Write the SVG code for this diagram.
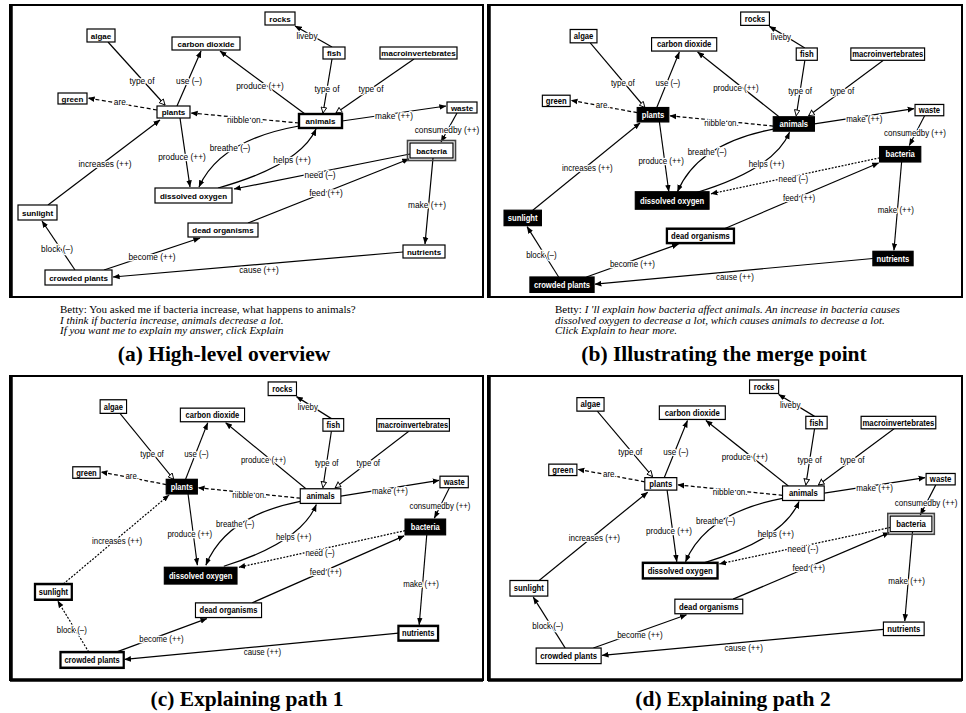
<svg xmlns="http://www.w3.org/2000/svg" width="966" height="713" viewBox="0 0 966 713">
<defs>
<style>
.n rect{fill:#fff;stroke:#000;stroke-width:1.2}
.n text{font-family:"Liberation Sans",Arial,sans-serif;font-weight:bold;font-size:8px;text-anchor:middle;fill:#000}
.n.h rect{fill:#000}
.n.h text{fill:#fff}
.n.t rect{stroke-width:2.4}
.n rect.o{fill:none;stroke:#444;stroke-width:1.6}
.e path{fill:none;stroke:#000;stroke-width:1.2}
.e path.d{stroke-dasharray:4 2.5}
.e path.s{stroke-dasharray:2 1.5}
.e path.a{marker-end:url(#ar)}
.e path.tr{marker-end:url(#tri)}
.lb{font-family:"Liberation Sans",Arial,sans-serif;font-size:8.3px;text-anchor:middle;fill:#000;stroke:#fff;stroke-width:2.5;paint-order:stroke;stroke-linejoin:round}
.frame{fill:none;stroke:#000;stroke-width:2}
.fl{stroke:#000;stroke-width:3.5}
.betty{font-family:"Liberation Serif","Times New Roman",serif;font-size:11px;fill:#000}
.it{font-style:italic}
.cap{font-family:"Liberation Serif","Times New Roman",serif;font-weight:bold;font-size:21.5px;text-anchor:middle;fill:#000}
</style>
<marker id="ar" viewBox="0 0 10 10" refX="9.5" refY="5" markerWidth="7" markerHeight="7" orient="auto" markerUnits="userSpaceOnUse"><path d="M0,1 L10,5 L0,9 z" fill="#000"/></marker>
<marker id="tri" viewBox="0 0 10 10" refX="9" refY="5" markerWidth="7" markerHeight="7" orient="auto" markerUnits="userSpaceOnUse"><path d="M1,1 L9,5 L1,9 z" fill="#fff" stroke="#000" stroke-width="1.3"/></marker>
</defs>
<rect width="966" height="713" fill="#fff"/>

<!-- frames -->
<rect class="frame" x="10" y="5" width="473" height="292"/>
<line class="fl" x1="11" y1="5" x2="11" y2="297"/>
<rect class="frame" x="488" y="5" width="474" height="292"/>
<line class="fl" x1="489" y1="5" x2="489" y2="297"/>
<rect class="frame" x="10" y="376" width="473" height="304"/>
<line class="fl" x1="11" y1="376" x2="11" y2="680"/>
<line class="fl" x1="10" y1="680" x2="483" y2="680"/>
<rect class="frame" x="488" y="376" width="474" height="304"/>
<line class="fl" x1="489" y1="376" x2="489" y2="680"/>
<line class="fl" x1="488" y1="680" x2="962" y2="680"/>

<!-- ================= PANEL A ================= -->
<g id="panel-a">
<g id="a-edges" class="e">
<path class="a" d="M332,47 L295,26"/><text class="lb" x="307" y="39">liveby</text>
<path class="tr" d="M108,42 L165,105"/><text class="lb" x="142" y="84">type of</text>
<path class="a" d="M177,106 L201,51"/><text class="lb" x="189" y="84">use (–)</text>
<path class="a" d="M305,114 L220,51"/><text class="lb" x="260" y="89">produce (++)</text>
<path class="tr" d="M332,59 L323,113"/><text class="lb" x="327" y="92">type of</text>
<path class="tr" d="M414,59 L336,113"/><text class="lb" x="371" y="92">type of</text>
<path class="a d" d="M157,110 L88,98"/><text class="lb" x="121" y="105">are.</text>
<path class="a d" d="M299,123 L191,113"/><text class="lb" x="245" y="123">nibble on.</text>
<path class="a" d="M342,121 L446,106"/><text class="lb" x="394" y="119">make (++)</text>
<path class="a" d="M457,113 L441,142"/><text class="lb" x="447" y="133">consumedby (++)</text>
<path class="a" d="M180,118 L190,187"/><text class="lb" x="182" y="160">produce (++)</text>
<path class="a" d="M299,126 Q220,140 199,187"/><text class="lb" x="230" y="151">breathe (–)</text>
<path class="a" d="M218,188 Q300,165 316,129"/><text class="lb" x="292" y="163">helps (++)</text>
<path class="a" d="M410,154 L234,189"/><text class="lb" x="320" y="178">need (–)</text>
<path class="a" d="M248,223 L409,159"/><text class="lb" x="326" y="196">feed (++)</text>
<path class="a" d="M433,158 L425,244"/><text class="lb" x="427" y="208">make (++)</text>
<path class="a" d="M403,252 L113,277"/><text class="lb" x="259" y="273">cause (++)</text>
<path class="a" d="M104,270 L200,238"/><text class="lb" x="152" y="260">become (++)</text>
<path class="a" d="M75,270 L42,221"/><text class="lb" x="57" y="252">block (–)</text>
<path class="a" d="M48,205 L160,120"/><text class="lb" x="105" y="167">increases (++)</text>
</g>
<g id="a-rocks" class="n"><rect x="265" y="12" width="30" height="13"/><text x="280" y="21.5">rocks</text></g>
<g id="a-algae" class="n"><rect x="87" y="29" width="28" height="13"/><text x="101" y="38.5">algae</text></g>
<g id="a-co2" class="n"><rect x="172" y="37" width="68" height="13"/><text x="206" y="46.5">carbon dioxide</text></g>
<g id="a-fish" class="n"><rect x="323" y="47" width="22" height="12"/><text x="334" y="56">fish</text></g>
<g id="a-macro" class="n"><rect x="380" y="47" width="77" height="12"/><text x="418.5" y="56">macroinvertebrates</text></g>
<g id="a-green" class="n"><rect x="58" y="93" width="29" height="11"/><text x="72.5" y="101.5">green</text></g>
<g id="a-plants" class="n"><rect x="157" y="106" width="33" height="12"/><text x="173.5" y="115">plants</text></g>
<g id="a-animals" class="n t"><rect x="299" y="114" width="43" height="14"/><text x="320.5" y="124">animals</text></g>
<g id="a-waste" class="n"><rect x="447" y="102" width="30" height="11"/><text x="462" y="110.5">waste</text></g>
<g id="a-bacteria" class="n"><rect class="o" x="407.5" y="140.5" width="48" height="20"/><rect x="410" y="143" width="43" height="15"/><text x="431.5" y="153.5">bacteria</text></g>
<g id="a-do" class="n"><rect x="155" y="188" width="77" height="15"/><text x="193.5" y="198.5">dissolved oxygen</text></g>
<g id="a-sunlight" class="n"><rect x="18" y="205" width="39" height="15"/><text x="37.5" y="215.5">sunlight</text></g>
<g id="a-dead" class="n"><rect x="188" y="223" width="70" height="14"/><text x="223" y="233">dead organisms</text></g>
<g id="a-nutrients" class="n"><rect x="403" y="245" width="42" height="13"/><text x="424" y="254.5">nutrients</text></g>
<g id="a-crowded" class="n"><rect x="45" y="270" width="67" height="15"/><text x="78.5" y="280.5">crowded plants</text></g>
</g>

<!-- ================= PANEL B ================= -->
<g id="panel-b" transform="matrix(0.958,0,0,1.027,486.8,-0.3)">
<g id="b-edges" class="e">
<path class="a" d="M332,47 L295,26"/><text class="lb" x="307" y="39">liveby</text>
<path class="tr" d="M108,42 L165,105"/><text class="lb" x="142" y="84">type of</text>
<path class="a" d="M177,106 L201,51"/><text class="lb" x="189" y="84">use (–)</text>
<path class="a" d="M305,114 L220,51"/><text class="lb" x="260" y="89">produce (++)</text>
<path class="tr" d="M332,59 L323,113"/><text class="lb" x="327" y="92">type of</text>
<path class="tr" d="M414,59 L336,113"/><text class="lb" x="371" y="92">type of</text>
<path class="a d" d="M157,110 L88,98"/><text class="lb" x="121" y="105">are.</text>
<path class="a d" d="M299,123 L191,113"/><text class="lb" x="245" y="123">nibble on.</text>
<path class="a" d="M342,121 L446,106"/><text class="lb" x="394" y="119">make (++)</text>
<path class="a" d="M457,113 L441,142"/><text class="lb" x="447" y="133">consumedby (++)</text>
<path class="a" d="M180,118 L190,187"/><text class="lb" x="182" y="160">produce (++)</text>
<path class="a" d="M299,126 Q220,140 199,187"/><text class="lb" x="230" y="151">breathe (–)</text>
<path class="a" d="M218,188 Q300,165 316,129"/><text class="lb" x="292" y="163">helps (++)</text>
<path class="a s" d="M410,154 L234,189"/><text class="lb" x="320" y="178">need (–)</text>
<path class="a" d="M248,223 L409,159"/><text class="lb" x="326" y="196">feed (++)</text>
<path class="a" d="M433,158 L425,244"/><text class="lb" x="427" y="208">make (++)</text>
<path class="a" d="M403,252 L113,277"/><text class="lb" x="259" y="273">cause (++)</text>
<path class="a" d="M104,270 L200,238"/><text class="lb" x="152" y="260">become (++)</text>
<path class="a" d="M75,270 L42,221"/><text class="lb" x="57" y="252">block (–)</text>
<path class="a" d="M48,205 L160,120"/><text class="lb" x="105" y="167">increases (++)</text>
</g>
<g id="b-rocks" class="n"><rect x="265" y="12" width="30" height="13"/><text x="280" y="21.5">rocks</text></g>
<g id="b-algae" class="n"><rect x="87" y="29" width="28" height="13"/><text x="101" y="38.5">algae</text></g>
<g id="b-co2" class="n"><rect x="172" y="37" width="68" height="13"/><text x="206" y="46.5">carbon dioxide</text></g>
<g id="b-fish" class="n"><rect x="323" y="47" width="22" height="12"/><text x="334" y="56">fish</text></g>
<g id="b-macro" class="n"><rect x="380" y="47" width="77" height="12"/><text x="418.5" y="56">macroinvertebrates</text></g>
<g id="b-green" class="n"><rect x="58" y="93" width="29" height="11"/><text x="72.5" y="101.5">green</text></g>
<g id="b-plants" class="n h"><rect x="157" y="105" width="33" height="14"/><text x="173.5" y="115">plants</text></g>
<g id="b-animals" class="n h"><rect x="299" y="114" width="43" height="14"/><text x="320.5" y="124">animals</text></g>
<g id="b-waste" class="n"><rect x="447" y="102" width="30" height="11"/><text x="462" y="110.5">waste</text></g>
<g id="b-bacteria" class="n h"><rect x="410" y="143" width="43" height="15"/><text x="431.5" y="153.5">bacteria</text></g>
<g id="b-do" class="n h"><rect x="155" y="187" width="77" height="17"/><text x="193.5" y="198.5">dissolved oxygen</text></g>
<g id="b-sunlight" class="n h"><rect x="18" y="205" width="39" height="15"/><text x="37.5" y="215.5">sunlight</text></g>
<g id="b-dead" class="n t"><rect x="188" y="223" width="70" height="14"/><text x="223" y="233">dead organisms</text></g>
<g id="b-nutrients" class="n h"><rect x="403" y="245" width="42" height="14"/><text x="424" y="255">nutrients</text></g>
<g id="b-crowded" class="n h"><rect x="45" y="270" width="67" height="15"/><text x="78.5" y="280.5">crowded plants</text></g>
</g>

<!-- ================= PANEL C ================= -->
<g id="panel-c" transform="matrix(0.944,0,0,1.047,18,369.4)">
<g id="c-edges" class="e">
<path class="a" d="M332,47 L295,26"/><text class="lb" x="307" y="39">liveby</text>
<path class="tr" d="M108,42 L165,105"/><text class="lb" x="142" y="84">type of</text>
<path class="a" d="M177,106 L201,51"/><text class="lb" x="189" y="84">use (–)</text>
<path class="a" d="M305,114 L220,51"/><text class="lb" x="260" y="89">produce (++)</text>
<path class="tr" d="M332,59 L323,113"/><text class="lb" x="327" y="92">type of</text>
<path class="tr" d="M414,59 L336,113"/><text class="lb" x="371" y="92">type of</text>
<path class="a d" d="M157,110 L88,98"/><text class="lb" x="121" y="105">are.</text>
<path class="a d" d="M299,123 L191,113"/><text class="lb" x="245" y="123">nibble on.</text>
<path class="a" d="M342,121 L446,106"/><text class="lb" x="394" y="119">make (++)</text>
<path class="a" d="M457,113 L441,142"/><text class="lb" x="447" y="133">consumedby (++)</text>
<path class="a" d="M180,118 L190,187"/><text class="lb" x="182" y="160">produce (++)</text>
<path class="a" d="M299,126 Q220,140 199,187"/><text class="lb" x="230" y="151">breathe (–)</text>
<path class="a" d="M218,188 Q300,165 316,129"/><text class="lb" x="292" y="163">helps (++)</text>
<path class="a s" d="M410,154 L234,189"/><text class="lb" x="320" y="178">need (–)</text>
<path class="a" d="M248,223 L409,159"/><text class="lb" x="326" y="196">feed (++)</text>
<path class="a" d="M433,158 L425,244"/><text class="lb" x="427" y="208">make (++)</text>
<path class="a" d="M403,252 L113,277"/><text class="lb" x="259" y="273">cause (++)</text>
<path class="a" d="M104,270 L200,238"/><text class="lb" x="152" y="260">become (++)</text>
<path class="a s" d="M75,270 L42,221"/><text class="lb" x="57" y="252">block (–)</text>
<path class="a s" d="M48,205 L160,120"/><text class="lb" x="105" y="167">increases (++)</text>
</g>
<g id="c-rocks" class="n"><rect x="265" y="12" width="30" height="13"/><text x="280" y="21.5">rocks</text></g>
<g id="c-algae" class="n"><rect x="87" y="29" width="28" height="13"/><text x="101" y="38.5">algae</text></g>
<g id="c-co2" class="n"><rect x="172" y="37" width="68" height="13"/><text x="206" y="46.5">carbon dioxide</text></g>
<g id="c-fish" class="n"><rect x="323" y="47" width="22" height="12"/><text x="334" y="56">fish</text></g>
<g id="c-macro" class="n"><rect x="380" y="47" width="77" height="12"/><text x="418.5" y="56">macroinvertebrates</text></g>
<g id="c-green" class="n"><rect x="58" y="93" width="29" height="11"/><text x="72.5" y="101.5">green</text></g>
<g id="c-plants" class="n h"><rect x="157" y="105" width="33" height="14"/><text x="173.5" y="115">plants</text></g>
<g id="c-animals" class="n"><rect x="299" y="114" width="43" height="14"/><text x="320.5" y="124">animals</text></g>
<g id="c-waste" class="n"><rect x="447" y="102" width="30" height="11"/><text x="462" y="110.5">waste</text></g>
<g id="c-bacteria" class="n h"><rect x="410" y="143" width="43" height="15"/><text x="431.5" y="153.5">bacteria</text></g>
<g id="c-do" class="n h"><rect x="155" y="189" width="77" height="16"/><text x="193.5" y="200">dissolved oxygen</text></g>
<g id="c-sunlight" class="n t"><rect x="18" y="205" width="39" height="15"/><text x="37.5" y="215.5">sunlight</text></g>
<g id="c-dead" class="n"><rect x="188" y="223" width="70" height="14"/><text x="223" y="233">dead organisms</text></g>
<g id="c-nutrients" class="n t"><rect x="403" y="245" width="42" height="14"/><text x="424" y="255">nutrients</text></g>
<g id="c-crowded" class="n t"><rect x="45" y="270" width="67" height="15"/><text x="78.5" y="280.5">crowded plants</text></g>
</g>

<!-- ================= PANEL D ================= -->
<g id="panel-d" transform="matrix(0.97,0,0,1.039,492.5,367.5)">
<g id="d-edges" class="e">
<path class="a" d="M332,47 L295,26"/><text class="lb" x="307" y="39">liveby</text>
<path class="tr" d="M108,42 L165,105"/><text class="lb" x="142" y="84">type of</text>
<path class="a" d="M177,106 L201,51"/><text class="lb" x="189" y="84">use (–)</text>
<path class="a" d="M305,114 L220,51"/><text class="lb" x="260" y="89">produce (++)</text>
<path class="tr" d="M332,59 L323,113"/><text class="lb" x="327" y="92">type of</text>
<path class="tr" d="M414,59 L336,113"/><text class="lb" x="371" y="92">type of</text>
<path class="a d" d="M157,110 L88,98"/><text class="lb" x="121" y="105">are.</text>
<path class="a d" d="M299,123 L191,113"/><text class="lb" x="245" y="123">nibble on.</text>
<path class="a" d="M342,121 L446,106"/><text class="lb" x="394" y="119">make (++)</text>
<path class="a" d="M457,113 L441,142"/><text class="lb" x="447" y="133">consumedby (++)</text>
<path class="a" d="M180,118 L190,187"/><text class="lb" x="182" y="160">produce (++)</text>
<path class="a" d="M299,126 Q220,140 199,187"/><text class="lb" x="230" y="151">breathe (–)</text>
<path class="a" d="M218,188 Q300,165 316,129"/><text class="lb" x="292" y="163">helps (++)</text>
<path class="a s" d="M410,154 L234,189"/><text class="lb" x="320" y="178">need (--)</text>
<path class="a" d="M248,223 L409,159"/><text class="lb" x="326" y="196">feed (++)</text>
<path class="a" d="M433,158 L425,244"/><text class="lb" x="427" y="208">make (++)</text>
<path class="a" d="M403,252 L113,277"/><text class="lb" x="259" y="273">cause (++)</text>
<path class="a" d="M104,270 L200,238"/><text class="lb" x="152" y="260">become (++)</text>
<path class="a" d="M75,270 L42,221"/><text class="lb" x="57" y="252">block (–)</text>
<path class="a" d="M48,205 L160,120"/><text class="lb" x="105" y="167">increases (++)</text>
</g>
<g id="d-rocks" class="n"><rect x="265" y="12" width="30" height="13"/><text x="280" y="21.5">rocks</text></g>
<g id="d-algae" class="n"><rect x="87" y="29" width="28" height="13"/><text x="101" y="38.5">algae</text></g>
<g id="d-co2" class="n"><rect x="172" y="37" width="68" height="13"/><text x="206" y="46.5">carbon dioxide</text></g>
<g id="d-fish" class="n"><rect x="323" y="47" width="22" height="12"/><text x="334" y="56">fish</text></g>
<g id="d-macro" class="n"><rect x="380" y="47" width="77" height="12"/><text x="418.5" y="56">macroinvertebrates</text></g>
<g id="d-green" class="n"><rect x="58" y="93" width="29" height="11"/><text x="72.5" y="101.5">green</text></g>
<g id="d-plants" class="n"><rect x="157" y="106" width="33" height="12"/><text x="173.5" y="115">plants</text></g>
<g id="d-animals" class="n"><rect x="299" y="114" width="43" height="14"/><text x="320.5" y="124">animals</text></g>
<g id="d-waste" class="n"><rect x="447" y="102" width="30" height="11"/><text x="462" y="110.5">waste</text></g>
<g id="d-bacteria" class="n"><rect class="o" x="407.5" y="140.5" width="48" height="20"/><rect x="410" y="143" width="43" height="15"/><text x="431.5" y="153.5">bacteria</text></g>
<g id="d-do" class="n t"><rect x="155" y="188" width="77" height="15"/><text x="193.5" y="198.5">dissolved oxygen</text></g>
<g id="d-sunlight" class="n"><rect x="18" y="205" width="39" height="15"/><text x="37.5" y="215.5">sunlight</text></g>
<g id="d-dead" class="n"><rect x="188" y="223" width="70" height="14"/><text x="223" y="233">dead organisms</text></g>
<g id="d-nutrients" class="n"><rect x="403" y="245" width="42" height="13"/><text x="424" y="254.5">nutrients</text></g>
<g id="d-crowded" class="n"><rect x="45" y="270" width="67" height="15"/><text x="78.5" y="280.5">crowded plants</text></g>
</g>

<!-- texts & captions -->
<g id="betty-a" class="betty">
<text x="60" y="313">Betty: You asked me if bacteria increase, what happens to animals?</text>
<text class="it" x="60" y="323.5">I  think if bacteria increase, animals decrease a lot.</text>
<text class="it" x="60" y="334">If you want me to explain my answer, click Explain</text>
</g>
<g id="betty-b" class="betty">
<text x="555" y="313">Betty: <tspan class="it">I 'll explain how bacteria affect animals. An increase in bacteria causes</tspan></text>
<text class="it" x="555" y="323.5">dissolved oxygen to decrease a lot, which causes animals to decrease a lot.</text>
<text class="it" x="555" y="334">Click Explain to hear more.</text>
</g>
<text id="cap-a" class="cap" x="224" y="361">(a) High-level overview</text>
<text id="cap-b" class="cap" x="724" y="361">(b) Illustrating the merge point</text>
<text id="cap-c" class="cap" x="247" y="706">(c) Explaining path 1</text>
<text id="cap-d" class="cap" x="733" y="706">(d) Explaining path 2</text>
</svg>
